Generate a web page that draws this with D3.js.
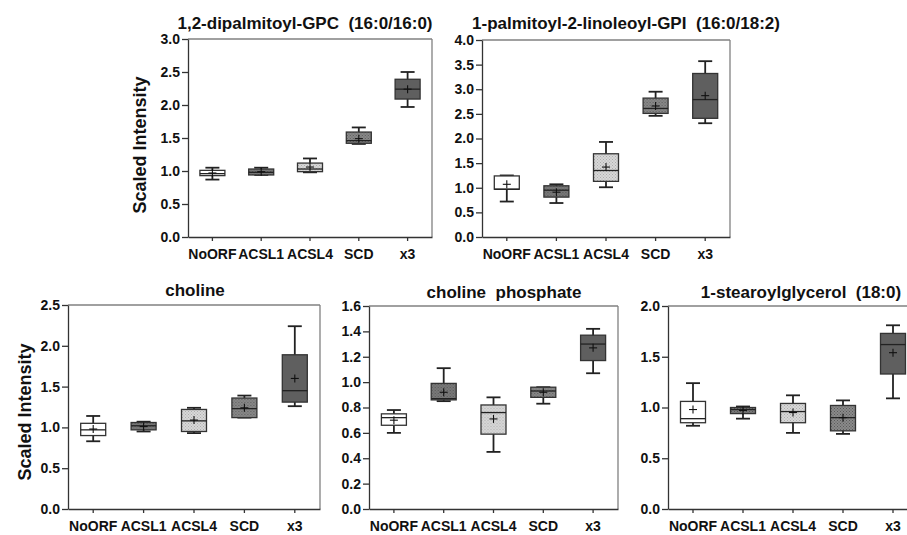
<!DOCTYPE html>
<html>
<head>
<meta charset="utf-8">
<script src="https://cdn.jsdelivr.net/npm/d3@7"></script>
<style>
  body { margin: 0; background: #fff; }
  text { font-family: "Liberation Sans", Arial, sans-serif; font-weight: bold; fill: #111; white-space: pre; }
</style>
</head>
<body>
<svg id="chart"></svg>
<script>
var categories = ["NoORF", "ACSL1", "ACSL4", "SCD", "x3"];

// each row: [low whisker, q1, median, q3, high whisker, mean]
var dipalmitoylGPC = [
  [0.87, 0.93, 0.96, 1.01, 1.05, 0.97],
  [0.94, 0.94, 0.98, 1.03, 1.05, 0.99],
  [0.98, 0.99, 1.03, 1.12, 1.19, 1.06],
  [1.41, 1.42, 1.46, 1.59, 1.66, 1.49],
  [1.97, 2.09, 2.24, 2.39, 2.50, 2.24]
];
var palmitoylLinoleoylGPI = [
  [0.72, 0.97, 0.97, 1.24, 1.25, 1.07],
  [0.69, 0.81, 0.95, 1.04, 1.07, 0.91],
  [1.01, 1.13, 1.35, 1.69, 1.93, 1.42],
  [2.46, 2.51, 2.61, 2.82, 2.95, 2.66],
  [2.31, 2.41, 2.79, 3.32, 3.57, 2.87]
];
var choline = [
  [0.83, 0.90, 0.97, 1.05, 1.14, 0.98],
  [0.95, 0.97, 1.02, 1.06, 1.07, 1.01],
  [0.93, 0.95, 1.08, 1.22, 1.24, 1.09],
  [1.12, 1.12, 1.23, 1.36, 1.39, 1.24],
  [1.26, 1.31, 1.45, 1.89, 2.24, 1.60]
];
var cholinePhosphate = [
  [0.60, 0.66, 0.72, 0.75, 0.78, 0.70],
  [0.85, 0.86, 0.87, 0.99, 1.11, 0.92],
  [0.45, 0.59, 0.76, 0.82, 0.88, 0.71],
  [0.83, 0.88, 0.93, 0.96, 0.96, 0.92],
  [1.07, 1.17, 1.30, 1.37, 1.42, 1.27]
];
var stearoylglycerol = [
  [0.82, 0.85, 0.89, 1.06, 1.24, 0.98],
  [0.89, 0.94, 0.98, 1.00, 1.01, 0.97],
  [0.75, 0.85, 0.96, 1.04, 1.12, 0.95],
  [0.74, 0.77, 0.90, 1.02, 1.07, 0.90],
  [1.09, 1.33, 1.62, 1.73, 1.81, 1.54]
];

var titles = ["1,2-dipalmitoyl-GPC  (16:0/16:0)", "1-palmitoyl-2-linoleoyl-GPI  (16:0/18:2)",
              "choline", "choline  phosphate", "1-stearoylglycerol  (18:0)"];
var yTicks1 = [0, 0.5, 1.0, 1.5, 2.0, 2.5, 3.0];
var yTicks2 = [0, 0.5, 1.0, 1.5, 2.0, 2.5, 3.0, 3.5, 4.0];
var yTicks3 = [0, 0.5, 1.0, 1.5, 2.0, 2.5];
var yTicks4 = [0, 0.2, 0.4, 0.6, 0.8, 1.0, 1.2, 1.4, 1.6];
var yTicks5 = [0, 0.5, 1.0, 1.5, 2.0];
var yLabel = "Scaled Intensity";

var svg = d3.select("#chart").attr("width", 907).attr("height", 535);

// fill textures
var defs = svg.append("defs");
function dotPattern(id, base, dot) {
  var p = defs.append("pattern").attr("id", id)
    .attr("width", 3).attr("height", 3).attr("patternUnits", "userSpaceOnUse");
  p.append("rect").attr("width", 3).attr("height", 3).attr("fill", base);
  p.append("rect").attr("width", 1).attr("height", 1).attr("fill", dot);
  p.append("rect").attr("x", 1.5).attr("y", 1.5).attr("width", 1).attr("height", 1).attr("fill", dot);
}
dotPattern("pACSL1", "#7a7a7a", "#555");
dotPattern("pACSL4", "#d8d8d8", "#adadad");
dotPattern("pSCD", "#8a8a8a", "#5a5a5a");
var fills = ["#ffffff", "url(#pACSL1)", "url(#pACSL4)", "url(#pSCD)", "#5f5f5f"];

var panels = [
  {data: dipalmitoylGPC, title: titles[0], ticks: yTicks1, L: 188, R: 432, T: 39, B: 237, tx: 305, ty: 29, ylab: [146, 145]},
  {data: palmitoylLinoleoylGPI, title: titles[1], ticks: yTicks2, L: 482, R: 730, T: 40, B: 237, tx: 626, ty: 29},
  {data: choline, title: titles[2], ticks: yTicks3, L: 68, R: 320, T: 305, B: 509, tx: 195, ty: 296, ylab: [31, 412]},
  {data: cholinePhosphate, title: titles[3], ticks: yTicks4, L: 369, R: 618, T: 306, B: 509, tx: 504, ty: 298},
  {data: stearoylglycerol, title: titles[4], ticks: yTicks5, L: 668, R: 918, T: 306, B: 509, tx: 801, ty: 298}
];

panels.forEach(function(p) {
  var x = d3.scaleBand().domain(categories).range([p.L, p.R]).padding(0);
  var y = d3.scaleLinear().domain([0, p.ticks[p.ticks.length - 1]]).range([p.B, p.T]);
  var g = svg.append("g");

  // frame: top & right grey
  g.append("line").attr("x1", p.L).attr("x2", p.R).attr("y1", p.T).attr("y2", p.T)
    .attr("stroke", "#808080").attr("stroke-width", 1.3);
  g.append("line").attr("x1", p.R).attr("x2", p.R).attr("y1", p.T).attr("y2", p.B)
    .attr("stroke", "#808080").attr("stroke-width", 1.3);

  var ax = g.append("g").attr("transform", "translate(" + p.L + ",0)")
    .call(d3.axisLeft(y).tickValues(p.ticks).tickFormat(d3.format(".1f")).tickSize(6).tickSizeOuter(0).tickPadding(2));
  var bx = g.append("g").attr("transform", "translate(0," + p.B + ")")
    .call(d3.axisBottom(x).tickSize(4).tickSizeOuter(0).tickPadding(8));
  [ax, bx].forEach(function(a) {
    a.selectAll("text").attr("font-size", 14);
    a.selectAll("path, line").attr("stroke", "#333").attr("stroke-width", 1.3);
    a.attr("font-family", null).attr("font-size", null);
  });

  g.append("text").attr("x", p.tx).attr("y", p.ty).attr("text-anchor", "middle")
    .attr("font-size", 17).text(p.title);
  if (p.ylab) {
    g.append("text").attr("transform", "translate(" + p.ylab[0] + "," + p.ylab[1] + ") rotate(-90)")
      .attr("text-anchor", "middle").attr("font-size", 18).text(yLabel);
  }

  var bw = 25, cw = 14, mw = 4;
  var boxes = g.selectAll("g.box").data(p.data).enter().append("g").attr("class", "box")
    .attr("transform", function(d, i) { return "translate(" + (x(categories[i]) + x.bandwidth() / 2) + ",0)"; });
  // whiskers
  boxes.append("line").attr("y1", function(d) { return y(d[0]); }).attr("y2", function(d) { return y(d[4]); })
    .attr("stroke", "#222").attr("stroke-width", 1.8);
  boxes.append("line").attr("x1", -cw / 2).attr("x2", cw / 2)
    .attr("y1", function(d) { return y(d[0]); }).attr("y2", function(d) { return y(d[0]); })
    .attr("stroke", "#222").attr("stroke-width", 1.8);
  boxes.append("line").attr("x1", -cw / 2).attr("x2", cw / 2)
    .attr("y1", function(d) { return y(d[4]); }).attr("y2", function(d) { return y(d[4]); })
    .attr("stroke", "#222").attr("stroke-width", 1.8);
  // box
  boxes.append("rect").attr("x", -bw / 2).attr("width", bw)
    .attr("y", function(d) { return y(d[3]); })
    .attr("height", function(d) { return y(d[1]) - y(d[3]); })
    .attr("fill", function(d, i) { return fills[i]; })
    .attr("stroke", "#333").attr("stroke-width", 1.3);
  // median
  boxes.append("line").attr("x1", -bw / 2).attr("x2", bw / 2)
    .attr("y1", function(d) { return y(d[2]); }).attr("y2", function(d) { return y(d[2]); })
    .attr("stroke", "#222").attr("stroke-width", 1.3);
  // mean cross
  boxes.append("line").attr("x1", -mw).attr("x2", mw)
    .attr("y1", function(d) { return y(d[5]); }).attr("y2", function(d) { return y(d[5]); })
    .attr("stroke", "#111").attr("stroke-width", 1.1);
  boxes.append("line").attr("y1", function(d) { return y(d[5]) - mw; }).attr("y2", function(d) { return y(d[5]) + mw; })
    .attr("stroke", "#111").attr("stroke-width", 1.1);
});
</script>
</body>
</html>
